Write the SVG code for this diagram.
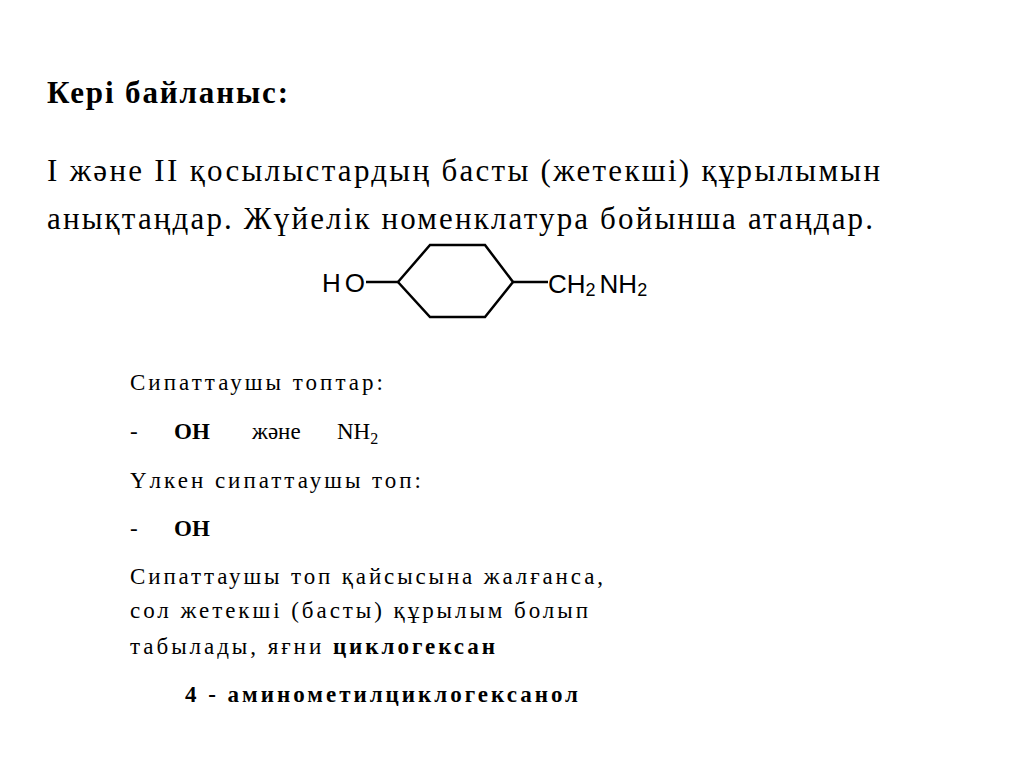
<svg xmlns="http://www.w3.org/2000/svg" width="1024" height="767" viewBox="0 0 1024 767">
<style>
text{font-family:"Liberation Serif","DejaVu Serif",serif;fill:#000}
.p{font-size:31px}
.s{font-size:23px}
.m{font-family:"Liberation Sans",Arial,sans-serif;font-size:26px}
.b{font-weight:bold}
</style>
<rect width="1024" height="767" fill="#fff"/>
<text class="p b" x="47" y="103" textLength="241">Кері байланыс:</text>
<text class="p" x="47" y="181" textLength="833">І және ІІ қосылыстардың басты (жетекші) құрылымын</text>
<text class="p" x="47" y="229" textLength="826">анықтаңдар. Жүйелік номенклатура бойынша атаңдар.</text>
<g id="molecule" fill="none" stroke="#000" stroke-width="2.5">
<polygon points="398,282 430,245 485,245 513,282 485,317 430,317"/>
<line x1="366" y1="282" x2="398" y2="282"/>
<line x1="513" y1="282" x2="548" y2="282"/>
</g>
<text class="m" x="322" y="292" textLength="43">HO</text>
<text class="m" x="548" y="293">CH<tspan font-size="18" dy="3">2</tspan><tspan dy="-3" dx="4">NH</tspan><tspan font-size="18" dy="3">2</tspan></text>
<text class="s" x="130" y="390" textLength="253">Сипаттаушы топтар:</text>
<text class="s" x="130" y="439">-</text>
<text class="s b" x="174" y="439">OH</text>
<text class="s" x="252" y="439">және</text>
<text class="s" x="337" y="439">NH<tspan font-size="16" dy="5">2</tspan></text>
<text class="s" x="130" y="488" textLength="291">Үлкен сипаттаушы топ:</text>
<text class="s" x="130" y="536">-</text>
<text class="s b" x="174" y="536">OH</text>
<text class="s" x="130" y="584" textLength="473">Сипаттаушы топ қайсысына жалғанса,</text>
<text class="s" x="130" y="618" textLength="458">сол жетекші (басты) құрылым болып</text>
<text class="s" x="130" y="654" textLength="365">табылады, яғни <tspan class="b">циклогексан</tspan></text>
<text class="s b" x="185" y="702" textLength="393">4 - аминометилциклогексанол</text>
</svg>
